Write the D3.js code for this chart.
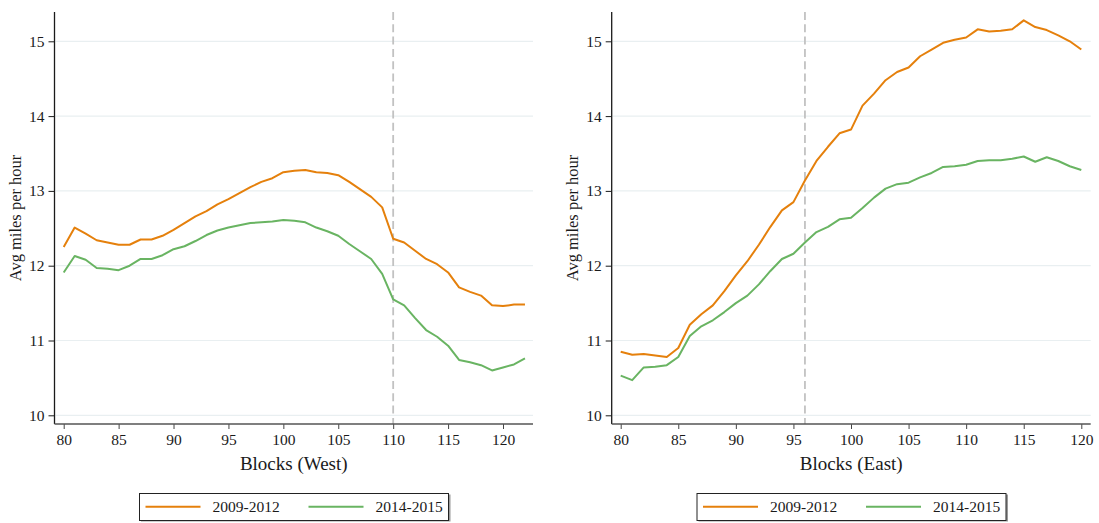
<!DOCTYPE html>
<html>
<head>
<meta charset="utf-8">
<script src="https://cdn.jsdelivr.net/npm/d3@7/dist/d3.min.js"></script>
<style>
  html, body { margin: 0; padding: 0; background: #fff; }
  svg { display: block; font-family: "Liberation Serif", "DejaVu Serif", serif; }
</style>
</head>
<body>
<svg id="chart" width="1099" height="523"></svg>
<script>
// Average speed by block, two periods, west and east corridors
const blocksWest = [80,81,82,83,84,85,86,87,88,89,90,91,92,93,94,95,96,97,98,99,100,101,102,103,104,105,106,107,108,109,110,111,112,113,114,115,116,117,118,119,120,121,122];
const westEarly = [12.25,12.51,12.43,12.34,12.31,12.28,12.28,12.35,12.35,12.40,12.48,12.57,12.66,12.73,12.82,12.89,12.97,13.05,13.12,13.17,13.25,13.27,13.28,13.25,13.24,13.21,13.12,13.02,12.92,12.78,12.36,12.31,12.20,12.09,12.02,11.91,11.71,11.65,11.60,11.47,11.46,11.48,11.48];
const westLate = [11.91,12.13,12.08,11.97,11.96,11.94,12.00,12.09,12.09,12.14,12.22,12.26,12.33,12.41,12.47,12.51,12.54,12.57,12.58,12.59,12.61,12.60,12.58,12.51,12.46,12.40,12.29,12.19,12.09,11.89,11.55,11.47,11.30,11.14,11.05,10.93,10.74,10.71,10.67,10.60,10.64,10.68,10.76];

const blocksEast = [80,81,82,83,84,85,86,87,88,89,90,91,92,93,94,95,96,97,98,99,100,101,102,103,104,105,106,107,108,109,110,111,112,113,114,115,116,117,118,119,120];
const eastEarly = [10.85,10.81,10.82,10.80,10.78,10.90,11.21,11.35,11.47,11.66,11.87,12.06,12.28,12.52,12.74,12.85,13.14,13.40,13.59,13.77,13.82,14.14,14.30,14.48,14.59,14.65,14.80,14.89,14.98,15.02,15.05,15.16,15.13,15.14,15.16,15.28,15.19,15.15,15.08,15.00,14.89];
const eastLate = [10.53,10.47,10.64,10.65,10.67,10.78,11.06,11.19,11.27,11.38,11.50,11.60,11.75,11.93,12.09,12.16,12.31,12.45,12.52,12.62,12.64,12.77,12.91,13.03,13.09,13.11,13.18,13.24,13.32,13.33,13.35,13.40,13.41,13.41,13.43,13.46,13.39,13.45,13.40,13.33,13.28];

const yTicks = [10, 11, 12, 13, 14, 15];
const xTicks = [80, 85, 90, 95, 100, 105, 110, 115, 120];
const seriesNames = ["2009-2012", "2014-2015"];
const seriesColors = ["#e5800c", "#69b462"];
const cutoffWest = 110;
const cutoffEast = 96;

const svg = d3.select("#chart");

function panel(cfg) {
  const g = svg.append("g");
  const x = d3.scaleLinear().domain([80, 120]).range(cfg.xRange);
  const y = d3.scaleLinear().domain([10, 15]).range([415.3, 41.3]);
  const top = 12, bottom = 424;

  // horizontal grid
  g.append("g").selectAll("line").data(yTicks).join("line")
    .attr("x1", cfg.left + 1).attr("x2", cfg.right)
    .attr("y1", d => y(d)).attr("y2", d => y(d))
    .attr("stroke", "#e9eff1").attr("stroke-width", 1.2);

  // cutoff marker
  g.append("line")
    .attr("x1", x(cfg.cutoff)).attr("x2", x(cfg.cutoff))
    .attr("y1", top).attr("y2", bottom)
    .attr("stroke", "#c2c2c2").attr("stroke-width", 1.8)
    .attr("stroke-dasharray", "8,4.3");

  // series lines
  const line = d3.line().x(d => x(d[0])).y(d => y(d[1]));
  cfg.series.forEach((vals, i) => {
    g.append("path")
      .datum(cfg.blocks.map((b, j) => [b, vals[j]]))
      .attr("d", line)
      .attr("fill", "none")
      .attr("stroke", seriesColors[i])
      .attr("stroke-width", 2)
      .attr("stroke-linejoin", "round");
  });

  // y axis
  const yAxis = d3.axisLeft(y).tickValues(yTicks).tickSize(6).tickPadding(4).tickFormat(d3.format("d"));
  const ya = g.append("g").attr("transform", `translate(${cfg.left},0)`).call(yAxis);
  ya.select(".domain").remove();
  ya.append("line").attr("x1", 0).attr("x2", 0).attr("y1", top).attr("y2", bottom)
    .attr("stroke", "#1a1a1a").attr("stroke-width", 1.3);
  ya.selectAll(".tick line").attr("stroke", "#1a1a1a").attr("stroke-width", 1);
  ya.selectAll(".tick text").attr("fill", "#1a1a1a").style("font-size", "15.5px")
    .style("font-family", "'Liberation Serif', serif");

  // x axis
  const xAxis = d3.axisBottom(x).tickValues(xTicks).tickSize(5).tickPadding(5).tickFormat(d3.format("d"));
  const xa = g.append("g").attr("transform", `translate(0,${bottom})`).call(xAxis);
  xa.select(".domain").remove();
  xa.append("line").attr("x1", cfg.left).attr("x2", cfg.right).attr("y1", 0).attr("y2", 0)
    .attr("stroke", "#555").attr("stroke-width", 1.6);
  xa.selectAll(".tick line").attr("stroke", "#444").attr("stroke-width", 1);
  xa.selectAll(".tick text").attr("fill", "#1a1a1a").style("font-size", "15.5px")
    .style("font-family", "'Liberation Serif', serif");

  // axis titles
  g.append("text")
    .attr("transform", `translate(${cfg.left - 37},${(top + bottom) / 2}) rotate(-90)`)
    .attr("text-anchor", "middle").attr("dominant-baseline", "middle")
    .attr("fill", "#1a1a1a").style("font-size", "16.5px")
    .text("Avg miles per hour");
  g.append("text")
    .attr("x", (cfg.left + cfg.right) / 2).attr("y", 470)
    .attr("text-anchor", "middle")
    .attr("fill", "#1a1a1a").style("font-size", "19px")
    .text(cfg.title);

  // legend
  const lg = g.append("g").attr("transform", `translate(${cfg.legendX},493.5)`);
  lg.append("rect").attr("x", 1.5).attr("y", 1).attr("width", 309.5).attr("height", 27)
    .attr("fill", "#9a9a9a");
  lg.append("rect").attr("x", 0).attr("y", 0).attr("width", 309).attr("height", 27)
    .attr("fill", "#fff").attr("stroke", "#222").attr("stroke-width", 1);
  seriesNames.forEach((name, i) => {
    const ox = 6 + i * 163;
    lg.append("line").attr("x1", ox).attr("x2", ox + 55).attr("y1", 13.3).attr("y2", 13.3)
      .attr("stroke", seriesColors[i]).attr("stroke-width", 2);
    lg.append("text").attr("x", ox + 67).attr("y", 18.5)
      .attr("fill", "#1a1a1a").style("font-size", "15.5px").text(name);
  });
}

panel({
  blocks: blocksWest, series: [westEarly, westLate], cutoff: cutoffWest,
  xRange: [63.7, 503], left: 54.5, right: 533, title: "Blocks (West)", legendX: 139.5
});
panel({
  blocks: blocksEast, series: [eastEarly, eastLate], cutoff: cutoffEast,
  xRange: [620.7, 1081.3], left: 611.7, right: 1090.7, title: "Blocks (East)", legendX: 697
});
</script>
</body>
</html>
